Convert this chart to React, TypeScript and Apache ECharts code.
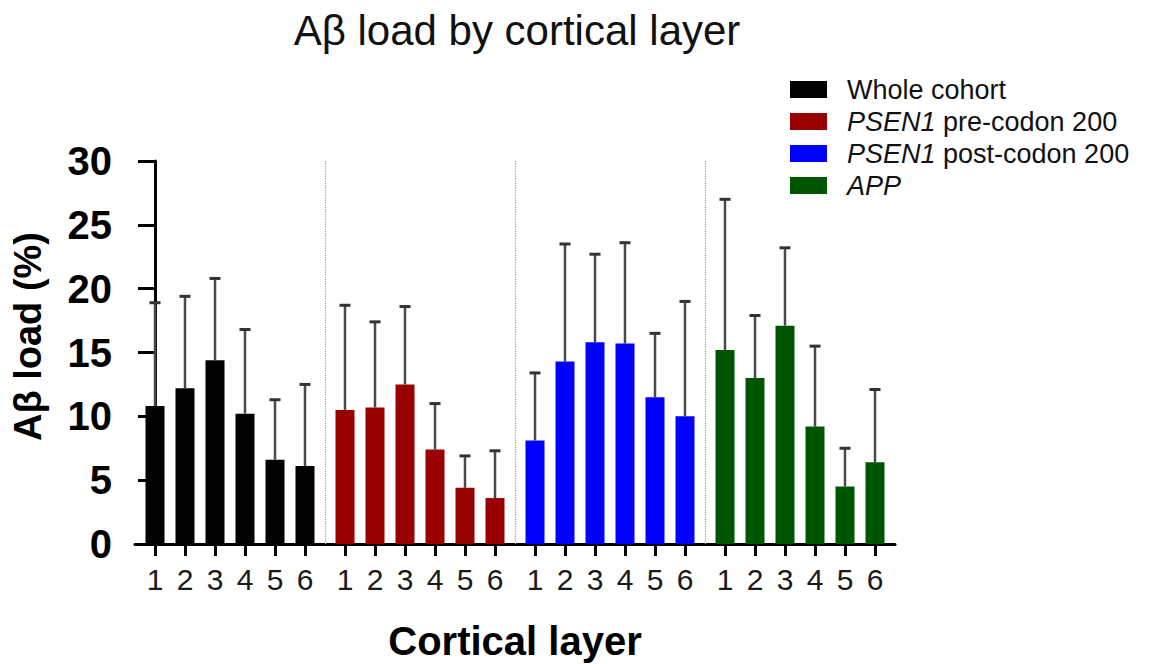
import React, { useEffect, useRef } from "react";
import * as echarts from "echarts";

// Cortical layers shown under each cohort block
const layers = ["1", "2", "3", "4", "5", "6"];

// Cohorts (legend order) and their bar colours
const cohorts = ["Whole cohort", "PSEN1 pre-codon 200", "PSEN1 post-codon 200", "APP"];
const cohortColors = ["#000000", "#990000", "#0000ff", "#005500"];

// Mean Aβ load (%) per layer
const wholeCohortMean = [10.8, 12.2, 14.4, 10.2, 6.6, 6.1];
const psen1PreMean = [10.5, 10.7, 12.5, 7.4, 4.4, 3.6];
const psen1PostMean = [8.1, 14.3, 15.8, 15.7, 11.5, 10.0];
const appMean = [15.2, 13.0, 17.1, 9.2, 4.5, 6.4];

// Standard deviation per layer (upper error bar)
const wholeCohortSD = [8.1, 7.2, 6.4, 6.6, 4.7, 6.4];
const psen1PreSD = [8.2, 6.7, 6.1, 3.6, 2.5, 3.7];
const psen1PostSD = [5.3, 9.2, 6.9, 7.9, 5.0, 9.0];
const appSD = [11.8, 4.9, 6.1, 6.3, 3.0, 5.7];

// Y axis ticks
const yTicks = [0, 5, 10, 15, 20, 25, 30];

const means = [wholeCohortMean, psen1PreMean, psen1PostMean, appMean];
const sds = [wholeCohortSD, psen1PreSD, psen1PostSD, appSD];

// Position on the x value axis: 3 units per bar, an extra unit between cohorts
const BAR_STEP = 3;
const GROUP_STEP = 19;
const pos = (g: number, i: number) => g * GROUP_STEP + i * BAR_STEP;

const positions: number[] = [];
const positionLabels: string[] = [];
cohorts.forEach((_, g) =>
  layers.forEach((l, i) => {
    positions.push(pos(g, i));
    positionLabels.push(l);
  })
);
const separators = [1, 2, 3].map((g) => g * GROUP_STEP - 2);

const FONT = "'Liberation Sans', Arial, Helvetica, sans-serif";

export default function App() {
  const ref = useRef<HTMLDivElement>(null);

  useEffect(() => {
    if (!ref.current) return;
    const chart = echarts.init(ref.current, null, { renderer: "svg" });

    const barSeries = cohorts.map((name, g) => ({
      name,
      type: "bar",
      barWidth: 19,
      barGap: "-100%",
      itemStyle: { color: cohortColors[g] },
      data: means[g].map((v, i) => [pos(g, i), v]),
      z: 2,
      ...(g === 0
        ? {
            markLine: {
              silent: true,
              symbol: "none",
              label: { show: false },
              lineStyle: { type: "dotted", color: "#9a9a9a", width: 1.2 },
              data: separators.map((x) => ({ xAxis: x })),
            },
          }
        : {}),
    }));

    const errorData: number[][] = [];
    cohorts.forEach((_, g) =>
      means[g].forEach((m, i) => errorData.push([pos(g, i), m, sds[g][i]]))
    );

    const italicName = (name: string) => {
      if (name.startsWith("PSEN1")) return `{sp| }{it|PSEN1}{n|${name.slice(5)}}`;
      if (name === "APP") return `{sp| }{it|APP}`;
      return `{sp| }{n|${name}}`;
    };

    chart.setOption({
      animation: false,
      textStyle: { fontFamily: FONT },
      title: {
        text: "Aβ load by cortical layer",
        left: 512,
        textAlign: "center",
        top: 4,
        textStyle: { fontSize: 42, fontWeight: "normal", color: "#111", fontFamily: FONT },
      },
      legend: {
        orient: "vertical",
        left: 785,
        top: 71,
        icon: "rect",
        itemWidth: 37,
        itemHeight: 17,
        itemGap: 5,
        data: cohorts,
        formatter: italicName,
        textStyle: {
          color: "#111",
          fontSize: 27,
          fontFamily: FONT,
          rich: {
            sp: { width: 15, fontSize: 27, lineHeight: 27 },
            it: { fontStyle: "italic", fontSize: 27, lineHeight: 27, color: "#111", fontFamily: FONT },
            n: { fontSize: 27, lineHeight: 27, color: "#111", fontFamily: FONT },
          },
        },
      },
      grid: {
        left: 135,
        right: 255,
        top: 161,
        bottom: 120,
        containLabel: false,
        outerBoundsMode: "none",
      },
      xAxis: {
        type: "value",
        min: -2,
        max: 74,
        name: "Cortical layer",
        nameLocation: "middle",
        nameGap: 77,
        nameTextStyle: { fontSize: 40, fontWeight: "bold", color: "#000", fontFamily: FONT },
        splitLine: { show: false },
        axisLine: { show: true, onZero: false, lineStyle: { color: "#000", width: 3 } },
        axisTick: {
          show: true,
          customValues: positions,
          length: 12,
          lineStyle: { color: "#000", width: 3 },
        },
        axisLabel: {
          customValues: positions,
          margin: 20,
          fontSize: 30,
          color: "#1a1a1a",
          fontFamily: FONT,
          formatter: (v: number) => {
            const idx = positions.findIndex((p) => Math.abs(p - v) < 0.01);
            return idx >= 0 ? positionLabels[idx] : "";
          },
        },
      },
      yAxis: {
        type: "value",
        min: 0,
        max: 30,
        interval: 5,
        name: "Aβ load (%)",
        nameLocation: "middle",
        nameGap: 88,
        nameTextStyle: {
          fontSize: 38,
          fontWeight: "bold",
          color: "#000",
          fontFamily: FONT,
          padding: [0, 0, 0, 32],
        },
        splitLine: { show: false },
        axisLine: { show: true, lineStyle: { color: "#000", width: 3 } },
        axisTick: { show: true, length: 17, lineStyle: { color: "#000", width: 3 } },
        axisLabel: {
          margin: 23,
          fontSize: 40,
          fontWeight: "bold",
          color: "#000",
          fontFamily: FONT,
          formatter: (v: number) => (yTicks.includes(v) ? String(v) : ""),
        },
      },
      series: [
        ...barSeries,
        {
          name: "SD",
          type: "custom",
          z: 3,
          encode: { x: 0, y: 1 },
          data: errorData,
          renderItem: (_params: any, api: any) => {
            const x = api.value(0);
            const m = api.value(1);
            const sd = api.value(2);
            const base = api.coord([x, m]);
            const top = api.coord([x, m + sd]);
            return {
              type: "group",
              children: [
                {
                  type: "line",
                  shape: { x1: base[0], y1: base[1], x2: top[0], y2: top[1] },
                  style: { stroke: "#4a4a4a", lineWidth: 2.5 },
                },
                {
                  type: "line",
                  shape: { x1: top[0] - 5.5, y1: top[1], x2: top[0] + 5.5, y2: top[1] },
                  style: { stroke: "#333", lineWidth: 3 },
                },
              ],
            };
          },
        },
      ],
    });

    return () => chart.dispose();
  }, []);

  return (
    <div
      ref={ref}
      style={{ position: "absolute", left: 0, top: 0, width: 1150, height: 664, background: "#fff" }}
    />
  );
}
